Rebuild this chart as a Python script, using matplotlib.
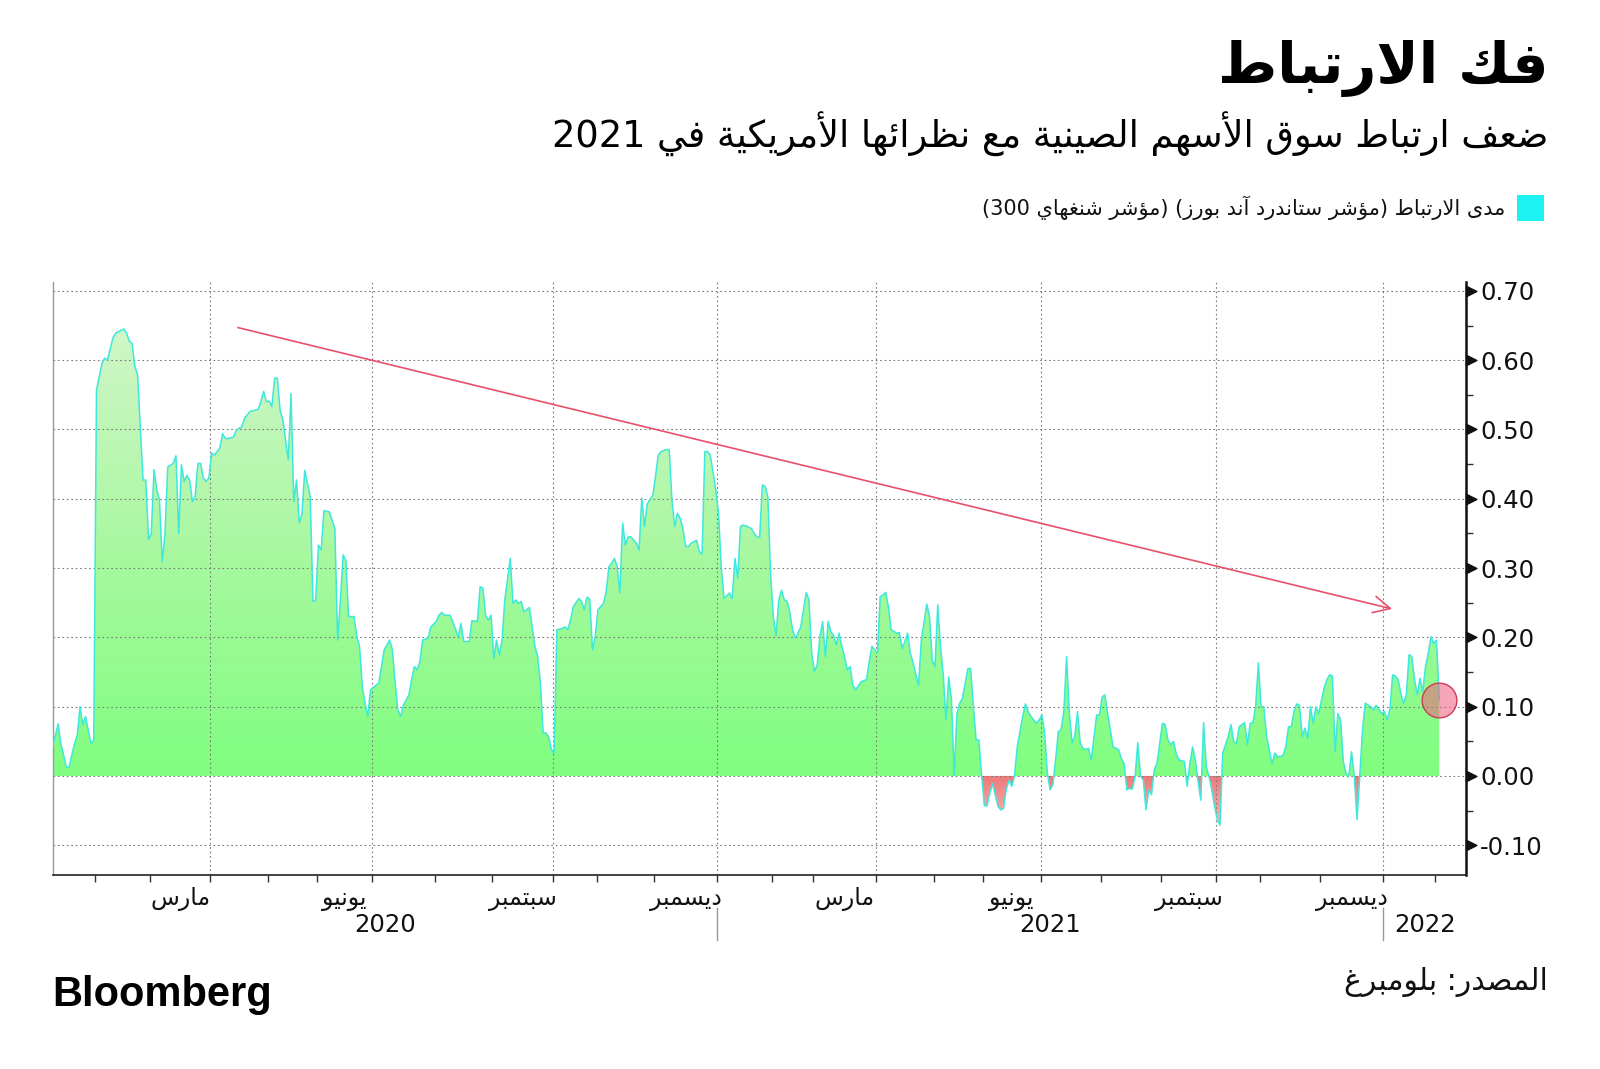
import re
import numpy as np
import pandas as pd
import matplotlib
matplotlib.use("Agg")
import matplotlib.pyplot as plt
from matplotlib.path import Path
from matplotlib.colors import LinearSegmentedColormap
from matplotlib.patches import Rectangle
from matplotlib.ticker import FixedLocator, StrMethodFormatter

plt.rcParams['axes.unicode_minus'] = False

# ---------------- text ----------------
TITLE = "فك الارتباط"
SUBTITLE = "ضعف ارتباط سوق الأسهم الصينية مع نظرائها الأمريكية في 2021"
LEGEND_LABEL = "مدى الارتباط (مؤشر ستاندرد آند بورز) (مؤشر شنغهاي 300)"
SOURCE = "المصدر: بلومبرغ"
MONTH_NAMES = {3: "مارس", 6: "يونيو", 9: "سبتمبر", 12: "ديسمبر"}
YEARS = ["2020", "2021", "2022"]
Y_TICKS = [-0.10, 0.00, 0.10, 0.20, 0.30, 0.40, 0.50, 0.60, 0.70]

# Chinese market holidays (weekdays closed) -> trading-session calendar
HOLIDAYS = [
    "2020-01-01", "2020-01-24", "2020-01-27", "2020-01-28", "2020-01-29", "2020-01-30",
    "2020-01-31", "2020-04-06", "2020-05-01", "2020-05-04", "2020-05-05", "2020-06-25",
    "2020-06-26", "2020-10-01", "2020-10-02", "2020-10-05", "2020-10-06", "2020-10-07",
    "2020-10-08",
    "2021-01-01", "2021-02-11", "2021-02-12", "2021-02-15", "2021-02-16", "2021-02-17",
    "2021-04-05", "2021-05-03", "2021-05-04", "2021-05-05", "2021-06-14", "2021-09-20",
    "2021-09-21", "2021-10-01", "2021-10-04", "2021-10-05", "2021-10-06", "2021-10-07",
    "2022-01-03", "2022-01-31", "2022-02-01", "2022-02-02", "2022-02-03", "2022-02-04",
]

# ---------------- data: (trading session number since 2 Jan 2020, correlation) ----------------
session = [
    0, 2, 3, 5, 6, 8, 9, 10, 11, 12, 13, 14, 15, 16, 18, 19, 20, 22, 23, 26, 27, 28, 29, 30,
    31, 32, 33, 34, 35, 36, 37, 38, 39, 40, 41, 42, 44, 45, 46, 47, 48, 49, 50, 51, 52, 53,
    54, 55, 56, 57, 58, 59, 61, 62, 63, 64, 66, 67, 69, 70, 72, 75, 76, 77, 78, 79, 80, 81,
    82, 83, 84, 86, 87, 88, 89, 90, 91, 92, 94, 95, 96, 97, 98, 99, 101, 103, 104, 105, 106,
    107, 108, 110, 111, 112, 113, 114, 115, 116, 118, 119, 120, 121, 123, 124, 125, 126, 127,
    128, 130, 131, 132, 133, 134, 135, 137, 138, 140, 141, 142, 143, 145, 146, 148, 149, 150,
    152, 153, 155, 156, 157, 158, 159, 160, 161, 162, 163, 164, 165, 167, 168, 169, 170, 171,
    172, 174, 176, 177, 178, 179, 180, 181, 182, 183, 184, 186, 187, 188, 189, 190, 192, 193,
    194, 195, 196, 197, 198, 199, 201, 202, 203, 204, 205, 206, 207, 208, 209, 210, 211, 213,
    214, 215, 216, 217, 219, 220, 221, 222, 224, 225, 226, 227, 228, 229, 230, 231, 232, 233,
    235, 236, 237, 238, 239, 240, 242, 243, 244, 245, 247, 248, 249, 250, 251, 252, 253, 255,
    256, 257, 258, 259, 260, 261, 262, 263, 264, 265, 266, 267, 268, 269, 270, 271, 272, 273,
    275, 276, 277, 278, 279, 280, 281, 282, 283, 284, 285, 286, 287, 288, 289, 290, 291, 292,
    293, 295, 297, 298, 299, 300, 301, 302, 303, 304, 305, 306, 308, 309, 310, 311, 312, 313,
    314, 316, 317, 319, 320, 321, 322, 323, 324, 325, 326, 327, 328, 329, 330, 331, 332, 334,
    335, 336, 337, 338, 339, 340, 341, 342, 343, 345, 346, 347, 348, 349, 350, 351, 352, 353,
    354, 355, 356, 357, 359, 360, 361, 362, 363, 364, 365, 366, 367, 368, 369, 370, 371, 372,
    373, 374, 375, 376, 377, 378, 379, 381, 382, 383, 384, 385, 386, 387, 388, 389, 390, 391,
    392, 393, 394, 395, 396, 397, 398, 399, 400, 401, 402, 403, 404, 405, 406, 407, 408, 409,
    410, 411, 413, 414, 415, 416, 417, 418, 419, 420, 421, 422, 423, 424, 425, 426, 427, 429,
    430, 431, 432, 433, 434, 435, 436, 437, 438, 439, 440, 441, 442, 443, 445, 446, 447, 448,
    449, 450, 451, 452, 453, 454, 455, 456, 457, 458, 459, 460, 461, 462, 464, 465, 466, 467,
    468, 469, 470, 471, 472, 473, 474, 475, 476, 477, 478, 479, 481, 482, 483, 485, 486, 487,
    488, 489, 490, 491, 492, 493, 494, 495, 496, 497, 498, 499, 500, 501, 502, 503, 504, 505,
    506,
]
correlation = [
    0.042, 0.075, 0.047, 0.013, 0.013, 0.047, 0.059, 0.100, 0.074, 0.086, 0.066, 0.047, 0.052,
    0.557, 0.595, 0.603, 0.600, 0.632, 0.639, 0.645, 0.639, 0.627, 0.624, 0.591,
    0.579, 0.504, 0.427, 0.427, 0.341, 0.350, 0.442, 0.413, 0.398, 0.309, 0.350, 0.446, 0.451,
    0.462, 0.350, 0.449, 0.425, 0.434, 0.427, 0.396, 0.403, 0.451,
    0.451, 0.430, 0.425, 0.430, 0.466, 0.463, 0.473, 0.494, 0.487, 0.487, 0.489, 0.499, 0.504,
    0.516, 0.526, 0.529, 0.540, 0.555, 0.540, 0.541, 0.533, 0.574,
    0.574, 0.528, 0.514, 0.456, 0.552, 0.396, 0.427, 0.365, 0.379, 0.441, 0.403, 0.252, 0.254,
    0.333, 0.326, 0.383, 0.381, 0.357, 0.196, 0.254, 0.319,
    0.311, 0.230, 0.230, 0.201, 0.187, 0.129, 0.105, 0.086, 0.124, 0.131, 0.134, 0.158, 0.182,
    0.196, 0.182, 0.134, 0.095, 0.086,
    0.102, 0.117, 0.139, 0.158, 0.153, 0.165, 0.196, 0.199, 0.215, 0.223, 0.232, 0.236, 0.232,
    0.232, 0.223, 0.201, 0.220, 0.194,
    0.194, 0.224, 0.223, 0.273, 0.271, 0.232, 0.225, 0.232, 0.170, 0.196, 0.175, 0.196, 0.254,
    0.314, 0.249, 0.254, 0.249, 0.252,
    0.237, 0.243, 0.187, 0.172, 0.134, 0.062, 0.062, 0.057, 0.038, 0.033, 0.211, 0.213, 0.215,
    0.211, 0.225, 0.244, 0.256, 0.252,
    0.240, 0.258, 0.255, 0.182, 0.201, 0.240, 0.249, 0.266, 0.302, 0.307, 0.314, 0.302, 0.264,
    0.365, 0.333, 0.345, 0.345, 0.336,
    0.326, 0.401, 0.360, 0.393, 0.405, 0.432, 0.463, 0.468, 0.471, 0.471, 0.398, 0.360, 0.379,
    0.372, 0.357, 0.331, 0.331, 0.336,
    0.340, 0.324, 0.320, 0.468, 0.468, 0.463, 0.413, 0.379, 0.302, 0.256, 0.264, 0.256, 0.314,
    0.285, 0.360, 0.362, 0.361, 0.357,
    0.350, 0.345, 0.344, 0.420, 0.418, 0.403, 0.292, 0.230, 0.203, 0.254, 0.268, 0.254, 0.252,
    0.237, 0.211, 0.199, 0.206, 0.215,
    0.265, 0.254, 0.177, 0.151, 0.160, 0.201, 0.223, 0.172, 0.223, 0.208, 0.203, 0.189, 0.206,
    0.187, 0.172, 0.153, 0.158, 0.131,
    0.124, 0.136, 0.139, 0.165, 0.187, 0.182, 0.177, 0.259, 0.261, 0.265, 0.244, 0.211, 0.206,
    0.207, 0.184, 0.194, 0.206, 0.177,
    0.163, 0.131, 0.196, 0.248, 0.230, 0.167, 0.158, 0.247, 0.187, 0.146, 0.081, 0.143, 0.110,
    0.001, 0.090, 0.105, 0.112, 0.155,
    0.155, 0.100, 0.052, 0.052, 0.001, -0.043, -0.043, -0.025, -0.011, -0.044, -0.049, -0.047,
    -0.020, -0.006, -0.015, 0.000, 0.042, 0.064,
    0.086, 0.104, 0.093, 0.086, 0.076, 0.081, 0.088, 0.062, 0.004, -0.020, -0.013, 0.023, 0.064,
    0.067, 0.093, 0.172, 0.093, 0.048,
    0.057, 0.093, 0.047, 0.040, 0.038, 0.040, 0.023, 0.088, 0.088, 0.114, 0.117, 0.090, 0.066,
    0.042, 0.040, 0.038, 0.025, 0.018,
    -0.020, -0.018, -0.019, -0.001, 0.048, 0.000, -0.006, -0.049, -0.020, -0.027, 0.009, 0.018,
    0.047, 0.076, 0.074, 0.052, 0.045, 0.050,
    0.033, 0.023, 0.021, -0.015, 0.018, 0.042, 0.023, -0.008, -0.035, 0.077, 0.013, -0.001,
    -0.020, -0.044, -0.063, -0.071, 0.033, 0.057,
    0.074, 0.050, 0.047, 0.071, 0.074, 0.077, 0.045, 0.076, 0.077, 0.100, 0.163, 0.100, 0.100,
    0.057, 0.018, 0.033, 0.028, 0.028,
    0.030, 0.042, 0.071, 0.071, 0.093, 0.104, 0.102, 0.057, 0.069, 0.054, 0.100, 0.076, 0.100,
    0.090, 0.127, 0.139, 0.146, 0.144,
    0.035, 0.090, 0.081, 0.021, 0.004, -0.001, 0.035, 0.000, -0.063, 0.000, 0.066, 0.105, 0.100,
    0.095, 0.102, 0.090, 0.093, 0.081,
    0.096, 0.146, 0.144, 0.139, 0.119, 0.105, 0.117, 0.175, 0.172, 0.139, 0.117, 0.141, 0.122,
    0.158, 0.177, 0.201, 0.191, 0.196,
    0.110,
]

# trend arrow (start and end, in session / correlation units)
TREND_START = (67.6, 0.647)
TREND_END = (488.8, 0.241)


# ---------------- minimal Arabic shaping + visual ordering ----------------
FORMS = {
    'ء': ('\uFE80', None, None, None),
    'آ': ('\uFE81', '\uFE82', None, None),
    'أ': ('\uFE83', '\uFE84', None, None),
    'ؤ': ('\uFE85', '\uFE86', None, None),
    'إ': ('\uFE87', '\uFE88', None, None),
    'ئ': ('\uFE89', '\uFE8A', '\uFE8B', '\uFE8C'),
    'ا': ('\uFE8D', '\uFE8E', None, None),
    'ب': ('\uFE8F', '\uFE90', '\uFE91', '\uFE92'),
    'ة': ('\uFE93', '\uFE94', None, None),
    'ت': ('\uFE95', '\uFE96', '\uFE97', '\uFE98'),
    'ث': ('\uFE99', '\uFE9A', '\uFE9B', '\uFE9C'),
    'ج': ('\uFE9D', '\uFE9E', '\uFE9F', '\uFEA0'),
    'ح': ('\uFEA1', '\uFEA2', '\uFEA3', '\uFEA4'),
    'خ': ('\uFEA5', '\uFEA6', '\uFEA7', '\uFEA8'),
    'د': ('\uFEA9', '\uFEAA', None, None),
    'ذ': ('\uFEAB', '\uFEAC', None, None),
    'ر': ('\uFEAD', '\uFEAE', None, None),
    'ز': ('\uFEAF', '\uFEB0', None, None),
    'س': ('\uFEB1', '\uFEB2', '\uFEB3', '\uFEB4'),
    'ش': ('\uFEB5', '\uFEB6', '\uFEB7', '\uFEB8'),
    'ص': ('\uFEB9', '\uFEBA', '\uFEBB', '\uFEBC'),
    'ض': ('\uFEBD', '\uFEBE', '\uFEBF', '\uFEC0'),
    'ط': ('\uFEC1', '\uFEC2', '\uFEC3', '\uFEC4'),
    'ظ': ('\uFEC5', '\uFEC6', '\uFEC7', '\uFEC8'),
    'ع': ('\uFEC9', '\uFECA', '\uFECB', '\uFECC'),
    'غ': ('\uFECD', '\uFECE', '\uFECF', '\uFED0'),
    'ف': ('\uFED1', '\uFED2', '\uFED3', '\uFED4'),
    'ق': ('\uFED5', '\uFED6', '\uFED7', '\uFED8'),
    'ك': ('\uFED9', '\uFEDA', '\uFEDB', '\uFEDC'),
    'ل': ('\uFEDD', '\uFEDE', '\uFEDF', '\uFEE0'),
    'م': ('\uFEE1', '\uFEE2', '\uFEE3', '\uFEE4'),
    'ن': ('\uFEE5', '\uFEE6', '\uFEE7', '\uFEE8'),
    'ه': ('\uFEE9', '\uFEEA', '\uFEEB', '\uFEEC'),
    'و': ('\uFEED', '\uFEEE', None, None),
    'ى': ('\uFEEF', '\uFEF0', None, None),
    'ي': ('\uFEF1', '\uFEF2', '\uFEF3', '\uFEF4'),
}
LAM_ALEF = {'آ': ('\uFEF5', '\uFEF6'), 'أ': ('\uFEF7', '\uFEF8'),
            'إ': ('\uFEF9', '\uFEFA'), 'ا': ('\uFEFB', '\uFEFC')}


def _joins_next(c):
    f = FORMS.get(c)
    return f is not None and f[2] is not None


def _joins_prev(c):
    f = FORMS.get(c)
    return f is not None and f[1] is not None


def shape(s):
    res = []
    i, n = 0, len(s)
    while i < n:
        c = s[i]
        prev = s[i - 1] if i > 0 else None
        cprev = prev is not None and _joins_next(prev) and _joins_prev(c)
        if c == 'ل' and i + 1 < n and s[i + 1] in LAM_ALEF:
            res.append(LAM_ALEF[s[i + 1]][1 if cprev else 0])
            i += 2
            continue
        if c not in FORMS:
            res.append(c)
            i += 1
            continue
        nxt = s[i + 1] if i + 1 < n else None
        cnext = nxt is not None and _joins_next(c) and _joins_prev(nxt)
        iso, fin, ini, med = FORMS[c]
        if cprev and cnext:
            g = med
        elif cprev:
            g = fin
        elif cnext:
            g = ini
        else:
            g = iso
        res.append(g)
        i += 1
    return ''.join(res)


def ar(s):
    shaped = shape(s)
    runs = re.findall(r'[0-9A-Za-z.]+|[^0-9A-Za-z.]+', shaped)
    mirror = {'(': ')', ')': '('}
    out = []
    for r in reversed(runs):
        if re.match(r'[0-9A-Za-z]', r):
            out.append(r)
        else:
            out.append(''.join(mirror.get(ch, ch) for ch in reversed(r)))
    return ''.join(out)


# ---------------- calendar ----------------
cal = pd.bdate_range("2020-01-02", "2022-03-31")
cal = cal[~cal.isin(pd.to_datetime(HOLIDAYS))]
XMAX = 515.8
month_start = {}
for i, d in enumerate(cal):
    key = (d.year, d.month)
    if key not in month_start:
        month_start[key] = i - 0.5
month_keys = [k for k in month_start if 0 < month_start[k] < XMAX]
month_pos = [month_start[k] for k in month_keys]
quarter_pos = [month_start[k] for k in month_keys if k[1] in (1, 4, 7, 10)]
year_pos = [month_start[k] for k in month_keys if k[1] == 1]

# ---------------- figure ----------------
fig = plt.figure(figsize=(16, 10.69), dpi=100)
ax = fig.add_axes([0.0329, 0.1815, 0.8834, 0.5551])

x = np.array(session, dtype=float)
y = np.array(correlation, dtype=float)

# gradient fills clipped to the area under the curve
green = LinearSegmentedColormap.from_list("g", ["#80fe80", "#a8f8a0", "#d0f6c8"])
red = LinearSegmentedColormap.from_list("r", ["#f5b8b8", "#f07878"])
grad = np.linspace(0, 1, 256).reshape(-1, 1)

pos = ax.fill_between(x, 0, y, where=y >= 0, interpolate=True, facecolor="none",
                      edgecolor="none", linewidth=0)
neg = ax.fill_between(x, 0, y, where=y <= 0, interpolate=True, facecolor="none",
                      edgecolor="none", linewidth=0)
im_pos = ax.imshow(grad, extent=[x.min(), x.max(), 0, y.max()], origin="lower",
                   cmap=green, aspect="auto", zorder=1, interpolation="bilinear")
im_pos.set_clip_path(Path.make_compound_path(*pos.get_paths()), ax.transData)
im_neg = ax.imshow(grad, extent=[x.min(), x.max(), y.min(), 0], origin="lower",
                   cmap=red, aspect="auto", zorder=1, interpolation="bilinear")
im_neg.set_clip_path(Path.make_compound_path(*neg.get_paths()), ax.transData)

ax.plot(x, y, color="#3ee8dc", lw=1.1, zorder=3)

# latest value marker
ax.plot(x[-1], y[-1], marker="o", ms=25, mfc=(0.94, 0.36, 0.50, 0.55),
        mec="#d03a55", mew=1.0, zorder=4, linestyle="none")

# trend arrow
ax.annotate("", xy=TREND_END, xytext=TREND_START,
            arrowprops=dict(arrowstyle="->", color="#e8506c", lw=1.2,
                            mutation_scale=30, shrinkA=0, shrinkB=0), zorder=5)

ax.set_xlim(0, XMAX)
ax.set_ylim(-0.1429, 0.7134)

# grid
for yv in Y_TICKS:
    ax.axhline(yv, color="#7a7a7a", lw=0.8, ls=(0, (1.5, 2.5)), zorder=2)
for xv in quarter_pos:
    ax.axvline(xv, color="#7a7a7a", lw=0.8, ls=(0, (1.5, 2.5)), zorder=2)

# spines
ax.spines["top"].set_visible(False)
ax.spines["left"].set_color("#9a9a9a")
ax.spines["left"].set_linewidth(1.0)
ax.spines["bottom"].set_color("#222222")
ax.spines["bottom"].set_linewidth(1.2)
ax.spines["right"].set_color("#111111")
ax.spines["right"].set_linewidth(1.8)

# y axis on the right
ax.yaxis.tick_right()
ax.yaxis.set_major_locator(FixedLocator(Y_TICKS))
ax.yaxis.set_major_formatter(StrMethodFormatter("{x:.2f}"))
ax.yaxis.set_minor_locator(FixedLocator([v + 0.05 for v in Y_TICKS[:-1]]))
ax.tick_params(axis="y", which="major", length=0, pad=10, labelsize=17.5,
               labelcolor="#111111", left=False)
ax.tick_params(axis="y", which="minor", length=5, width=1.0, color="#333333",
               direction="out", left=False, right=True)
tri = Path([(0, -0.5), (1, 0), (0, 0.5), (0, -0.5)],
           [Path.MOVETO, Path.LINETO, Path.LINETO, Path.CLOSEPOLY])
ax.plot([1.0] * len(Y_TICKS), Y_TICKS, transform=ax.get_yaxis_transform(),
        marker=tri, ms=15, color="#111111", linestyle="none", clip_on=False, zorder=6)

# x axis
ax.xaxis.set_major_locator(FixedLocator(month_pos))
ax.xaxis.set_major_formatter(plt.NullFormatter())
ax.tick_params(axis="x", which="major", length=5, width=1.0, color="#333333",
               direction="out")

AR_FONT = ["DejaVu Sans"]
for k in month_keys:
    if k[1] in MONTH_NAMES:
        nk = (k[0] + (k[1] // 12), k[1] % 12 + 1)
        mid = (month_start[k] + month_start[nk]) / 2
        ax.text(mid, -0.04, ar(MONTH_NAMES[k[1]]), transform=ax.get_xaxis_transform(),
                ha="center", va="center", fontsize=17, family=AR_FONT, color="#111111")

year_bounds = [0] + year_pos + [XMAX]
for i, yl in enumerate(YEARS):
    mid = (year_bounds[i] + year_bounds[i + 1]) / 2
    ax.text(mid, -0.0845, yl, transform=ax.get_xaxis_transform(), ha="center",
            va="center", fontsize=17.5, color="#111111", family=AR_FONT)
for xv in year_pos:
    ax.plot([xv, xv], [-0.0556, -0.1096], transform=ax.get_xaxis_transform(),
            color="#999999", lw=1.0, clip_on=False)

# ---------------- titles / legend / footer ----------------
fig.text(0.9675, 0.936, ar(TITLE), ha="right", va="center", fontsize=41,
         fontweight="bold", family=AR_FONT, color="#000000")
fig.text(0.9675, 0.874, ar(SUBTITLE), ha="right", va="center", fontsize=26.5,
         family=AR_FONT, color="#000000")
fig.patches.append(Rectangle((0.948, 0.7933), 0.017, 0.0243, transform=fig.transFigure,
                             facecolor="#1cf2f2", edgecolor="none"))
fig.text(0.9406, 0.8054, ar(LEGEND_LABEL), ha="right", va="center", fontsize=15,
         family=AR_FONT, color="#111111")
fig.text(0.9675, 0.081, ar(SOURCE), ha="right", va="center", fontsize=21.5,
         family=AR_FONT, color="#111111")
fig.text(0.0325, 0.0695, "Bloomberg", ha="left", va="center", fontsize=30,
         fontweight="bold", family=["Liberation Sans", "DejaVu Sans"], color="#000000")

fig.savefig("out.png", dpi=100, facecolor="white")
